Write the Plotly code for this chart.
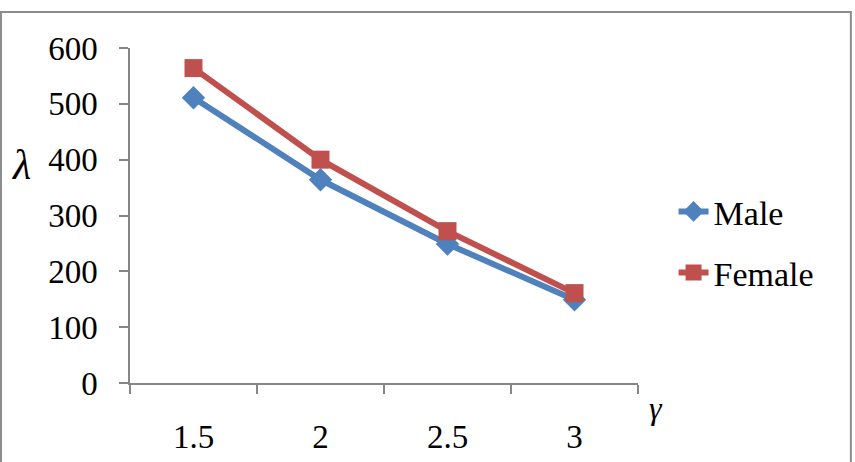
import plotly.graph_objects as go

categories = ["1.5", "2", "2.5", "3"]
male = [511, 364, 249, 149]
female = [564, 400, 272, 161]
y_ticks = [0, 100, 200, 300, 400, 500, 600]

BLUE = "#4F81BD"
RED = "#C0504D"
FONT = "Liberation Serif"

fig = go.Figure()
fig.add_trace(go.Scatter(
    x=categories, y=male, name="Male", mode="lines+markers",
    line=dict(color=BLUE, width=6),
    marker=dict(symbol="diamond", size=18, color=BLUE),
    legendgroup="m",
))
fig.add_trace(go.Scatter(
    x=categories, y=female, name="Female", mode="lines+markers",
    line=dict(color=RED, width=6),
    marker=dict(symbol="square", size=18, color=RED),
    legendgroup="f",
))

fig.update_layout(
    width=855, height=462,
    margin=dict(l=130, r=217, t=48, b=79, autoexpand=False),
    paper_bgcolor="white", plot_bgcolor="white",
    font=dict(family=FONT, size=33, color="#000000"),
    showlegend=True,
    legend=dict(x=1.07, y=0.42, xanchor="left", yanchor="middle",
                font=dict(family=FONT, size=34), tracegroupgap=14,
                bgcolor="rgba(0,0,0,0)"),
    xaxis=dict(type="category", range=[-0.5, 3.5], tickson="boundaries",
               ticks="outside", ticklen=9, tickwidth=1.5, tickcolor="#868686",
               showline=True, linecolor="#868686", linewidth=1.5,
               showgrid=False, zeroline=False, ticklabelstandoff=24,
               automargin=False, tickfont=dict(family=FONT, size=33)),
    yaxis=dict(range=[0, 600], tickvals=y_ticks,
               ticks="outside", ticklen=9, tickwidth=1.5, tickcolor="#868686",
               showline=True, linecolor="#868686", linewidth=1.5,
               showgrid=False, zeroline=False, ticklabelstandoff=15,
               automargin=False, tickfont=dict(family=FONT, size=33)),
    shapes=[dict(type="rect", xref="paper", yref="paper",
                 x0=-0.254, x1=1.419, y0=-0.4, y1=1.1075,
                 line=dict(color="#8c8c8c", width=2), layer="below")],
    annotations=[
        dict(text="<i>λ</i>", xref="paper", yref="paper", x=-0.215, y=0.65,
             showarrow=False, font=dict(family=FONT, size=42),
             xanchor="center", yanchor="middle"),
        dict(text="<i>γ</i>", xref="paper", yref="paper", x=1.035, y=-0.075,
             showarrow=False, font=dict(family=FONT, size=32),
             xanchor="center", yanchor="middle"),
    ],
)

fig.write_html("out.html")
